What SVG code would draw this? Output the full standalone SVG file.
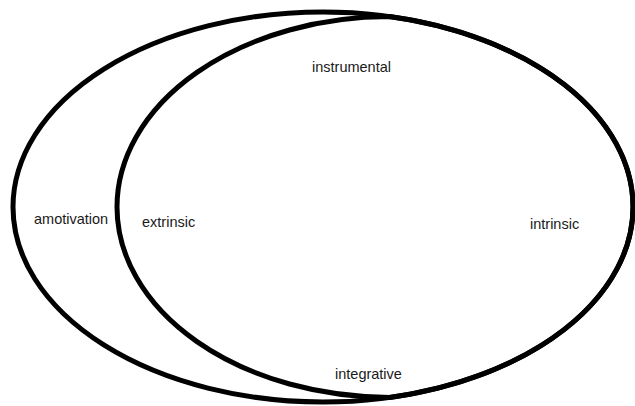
<svg xmlns="http://www.w3.org/2000/svg" width="635" height="406" viewBox="0 0 635 406">
<style>
.e{fill:none;stroke:#000;stroke-width:5}
text{font-family:"Liberation Sans",Arial,sans-serif;font-size:14.5px;fill:#1a1a1a}
</style>
<rect width="635" height="406" fill="#fff"/>
<g id="outer"><ellipse class="e" cx="323" cy="207" rx="310" ry="195"/></g>
<g id="inner"><path class="e" d="M390,16.6 A273,190.4 0 0 0 390,397.4 A310,195 0 0 0 390,16.6 Z"/></g>
<g id="labels">
<text x="312" y="72">instrumental</text>
<text x="34" y="224">amotivation</text>
<text x="142" y="227">extrinsic</text>
<text x="530" y="229">intrinsic</text>
<text x="335" y="379">integrative</text>
</g>
</svg>
